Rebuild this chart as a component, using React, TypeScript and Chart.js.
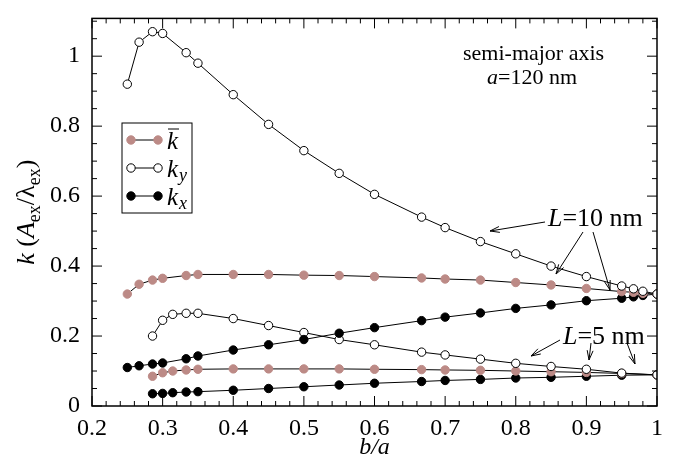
import React, { useEffect, useRef } from "react";
import { Chart, registerables } from "chart.js";
Chart.register(...registerables);

const x10 = [0.25, 0.2667, 0.2857, 0.3, 0.3333, 0.35, 0.4, 0.45, 0.5, 0.55, 0.6, 0.6667, 0.7, 0.75, 0.8, 0.85, 0.9, 0.95, 0.9667, 0.98, 1.0];
const ky10 = [0.92, 1.04, 1.07, 1.065, 1.01, 0.98, 0.89, 0.805, 0.73, 0.665, 0.605, 0.54, 0.51, 0.47, 0.435, 0.40, 0.37, 0.343, 0.335, 0.328, 0.32];
const kb10 = [0.32, 0.348, 0.36, 0.365, 0.373, 0.376, 0.376, 0.376, 0.374, 0.373, 0.37, 0.366, 0.363, 0.36, 0.353, 0.346, 0.336, 0.327, 0.325, 0.322, 0.32];
const kx10 = [0.11, 0.115, 0.12, 0.123, 0.135, 0.143, 0.16, 0.175, 0.19, 0.208, 0.224, 0.244, 0.254, 0.266, 0.279, 0.289, 0.301, 0.308, 0.312, 0.316, 0.32];
const x5 = [0.2857, 0.3, 0.3143, 0.3333, 0.35, 0.4, 0.45, 0.5, 0.55, 0.6, 0.6667, 0.7, 0.75, 0.8, 0.85, 0.9, 0.95, 1.0];
const ky5 = [0.2, 0.245, 0.262, 0.265, 0.265, 0.25, 0.23, 0.21, 0.19, 0.175, 0.154, 0.146, 0.134, 0.122, 0.113, 0.105, 0.094, 0.089];
const kb5 = [0.085, 0.095, 0.1, 0.103, 0.105, 0.106, 0.106, 0.106, 0.106, 0.105, 0.104, 0.103, 0.102, 0.1, 0.098, 0.096, 0.093, 0.089];
const kx5 = [0.035, 0.036, 0.038, 0.04, 0.041, 0.045, 0.05, 0.055, 0.06, 0.065, 0.07, 0.073, 0.076, 0.08, 0.082, 0.085, 0.088, 0.089];
const yTicks = [0, 0.2, 0.4, 0.6, 0.8, 1];

const PINK = "#bc8a86";
const FONT = "'Liberation Serif', 'DejaVu Serif', serif";

function ds(xs: number[], ys: number[], fill: string) {
  return {
    data: xs.map((x, i) => ({ x, y: ys[i] })),
    borderColor: "#000",
    borderWidth: 1,
    pointRadius: 4.2,
    pointBorderWidth: 1,
    pointBackgroundColor: fill,
    pointBorderColor: fill === PINK ? PINK : "#000",
    showLine: true,
    tension: 0,
  };
}

const deco = {
  id: "deco",
  afterDraw(chart: any) {
    const c = chart.ctx as CanvasRenderingContext2D;
    const { left, right, top, bottom } = chart.chartArea;
    const xs = chart.scales.x, ys = chart.scales.y;
    c.save();
    c.strokeStyle = "#000";
    c.lineWidth = 1.5;
    c.strokeRect(left, top, right - left, bottom - top);
    c.lineWidth = 1;
    for (let i = 0; i <= 40; i++) {
      const v = 0.2 + i * 0.02;
      const px = xs.getPixelForValue(v);
      const len = i % 5 === 0 ? 10 : 5;
      c.beginPath();
      c.moveTo(px, bottom); c.lineTo(px, bottom - len);
      c.moveTo(px, top); c.lineTo(px, top + len);
      c.stroke();
    }
    for (let i = 0; i <= 22; i++) {
      const v = i * 0.05;
      const py = ys.getPixelForValue(v);
      if (py < top) continue;
      const len = i % 4 === 0 ? 10 : 5;
      c.beginPath();
      c.moveTo(left, py); c.lineTo(left + len, py);
      c.moveTo(right, py); c.lineTo(right - len, py);
      c.stroke();
    }
    // y title
    c.save();
    c.translate(26, (top + bottom) / 2);
    c.rotate(-Math.PI / 2);
    c.fillStyle = "#000";
    c.textBaseline = "alphabetic";
    const parts: [string, string, number][] = [
      ["k", "italic 26px", 0], [" (", "26px", 0], ["A", "italic 26px", 0], ["ex", "18px", 6],
      ["/", "26px", 0], ["λ", "26px", 0], ["ex", "18px", 6], [")", "26px", 0],
    ];
    let tw = 0;
    parts.forEach(([t, f]) => { c.font = `${f} ${FONT}`; tw += c.measureText(t).width; });
    let px = -tw / 2;
    parts.forEach(([t, f, dy]) => { c.font = `${f} ${FONT}`; c.fillText(t, px, 8 + dy); px += c.measureText(t).width; });
    c.restore();
    // legend
    const lx = 122, ly = 123;
    c.fillStyle = "#fff";
    c.fillRect(lx, ly, 70, 90);
    c.strokeRect(lx, ly, 70, 90);
    const rows = [
      { f: PINK, s: PINK, t: "k", sub: "", bar: true },
      { f: "#fff", s: "#000", t: "k", sub: "y", bar: false },
      { f: "#000", s: "#000", t: "k", sub: "x", bar: false },
    ];
    rows.forEach((r, i) => {
      const y = ly + 17 + i * 28;
      c.beginPath(); c.moveTo(lx + 9, y); c.lineTo(lx + 36, y); c.stroke();
      [lx + 9, lx + 36].forEach((px) => {
        c.beginPath(); c.arc(px, y, 4.2, 0, Math.PI * 2);
        c.fillStyle = r.f; c.fill(); c.strokeStyle = r.s; c.stroke();
      });
      c.strokeStyle = "#000";
      c.fillStyle = "#000";
      c.font = `italic 25px ${FONT}`;
      c.textBaseline = "middle";
      c.fillText(r.t, lx + 45, y + 2);
      if (r.bar) { c.beginPath(); c.moveTo(lx + 46, y - 11); c.lineTo(lx + 57, y - 11); c.stroke(); }
      if (r.sub) { c.font = `italic 18px ${FONT}`; c.fillText(r.sub, lx + 57, y + 8); }
    });
    c.fillStyle = "#000";
    c.textBaseline = "alphabetic";
    c.font = `22px ${FONT}`;
    c.fillText("semi-major axis", 463, 60);
    c.font = `italic 22px ${FONT}`;
    c.fillText("a", 487, 84);
    const aw = c.measureText("a").width;
    c.font = `22px ${FONT}`;
    c.fillText("=120 nm", 487 + aw, 84);
    const lab = (x: number, y: number, t: string) => {
      c.font = `italic 26px ${FONT}`;
      c.fillText("L", x, y);
      const w = c.measureText("L").width;
      c.font = `26px ${FONT}`;
      c.fillText(t, x + w, y);
    };
    lab(548, 226, "=10 nm");
    lab(563, 344, "=5 nm");
    const arrow = (x1: number, y1: number, x2: number, y2: number) => {
      c.beginPath(); c.moveTo(x1, y1); c.lineTo(x2, y2); c.stroke();
      const a = Math.atan2(y2 - y1, x2 - x1);
      c.beginPath();
      c.moveTo(x2, y2);
      c.lineTo(x2 - 10 * Math.cos(a - 0.3), y2 - 10 * Math.sin(a - 0.3));
      c.moveTo(x2, y2);
      c.lineTo(x2 - 10 * Math.cos(a + 0.3), y2 - 10 * Math.sin(a + 0.3));
      c.stroke();
    };
    arrow(545, 222, 490, 231);
    arrow(583, 232, 556, 274);
    arrow(593, 232, 610, 290);
    arrow(560, 340, 531, 356);
    arrow(591, 343, 589, 360);
    arrow(627, 343, 635, 364);
    c.restore();
  },
};

export default function App() {
  const ref = useRef<HTMLCanvasElement>(null);
  useEffect(() => {
    document.body.style.margin = "0";
    const chart = new Chart(ref.current!, {
      type: "scatter",
      data: {
        datasets: [
          ds(x10, ky10, "#fff"), ds(x10, kb10, PINK), ds(x10, kx10, "#000"),
          ds(x5, ky5, "#fff"), ds(x5, kb5, PINK), ds(x5, kx5, "#000"),
        ] as any,
      },
      options: {
        animation: false,
        responsive: false,
        layout: { padding: { top: 8, right: 19, left: 0, bottom: 0 } },
        plugins: { legend: { display: false }, tooltip: { enabled: false } },
        scales: {
          x: {
            type: "linear", min: 0.2, max: 1.0,
            grid: { display: false }, border: { display: false },
            ticks: { stepSize: 0.1, color: "#000", font: { family: FONT, size: 24 }, padding: 0,
              callback: (v: any) => (Math.abs(v - 1) < 1e-9 ? "1" : Number(v).toFixed(1)) },
            title: { display: true, text: "b/a", color: "#000", font: { family: FONT, size: 24, style: "italic" }, padding: 0 },
            afterFit: (s: any) => { s.height = 56; },
          },
          y: {
            type: "linear", min: 0, max: 1.108,
            grid: { display: false }, border: { display: false },
            afterBuildTicks: (s: any) => { s.ticks = yTicks.map((v) => ({ value: v })); },
            ticks: { color: "#000", font: { family: FONT, size: 24 }, padding: 4,
              callback: (v: any) => (v === 0 ? "0" : Math.abs(v - 1) < 1e-9 ? "1" : Number(v).toFixed(1)) },
            afterFit: (s: any) => { s.width = 92; },
          },
        },
      } as any,
      plugins: [deco],
    });
    return () => chart.destroy();
  }, []);
  return <canvas ref={ref} width={676} height={462} style={{ display: "block" }} />;
}
